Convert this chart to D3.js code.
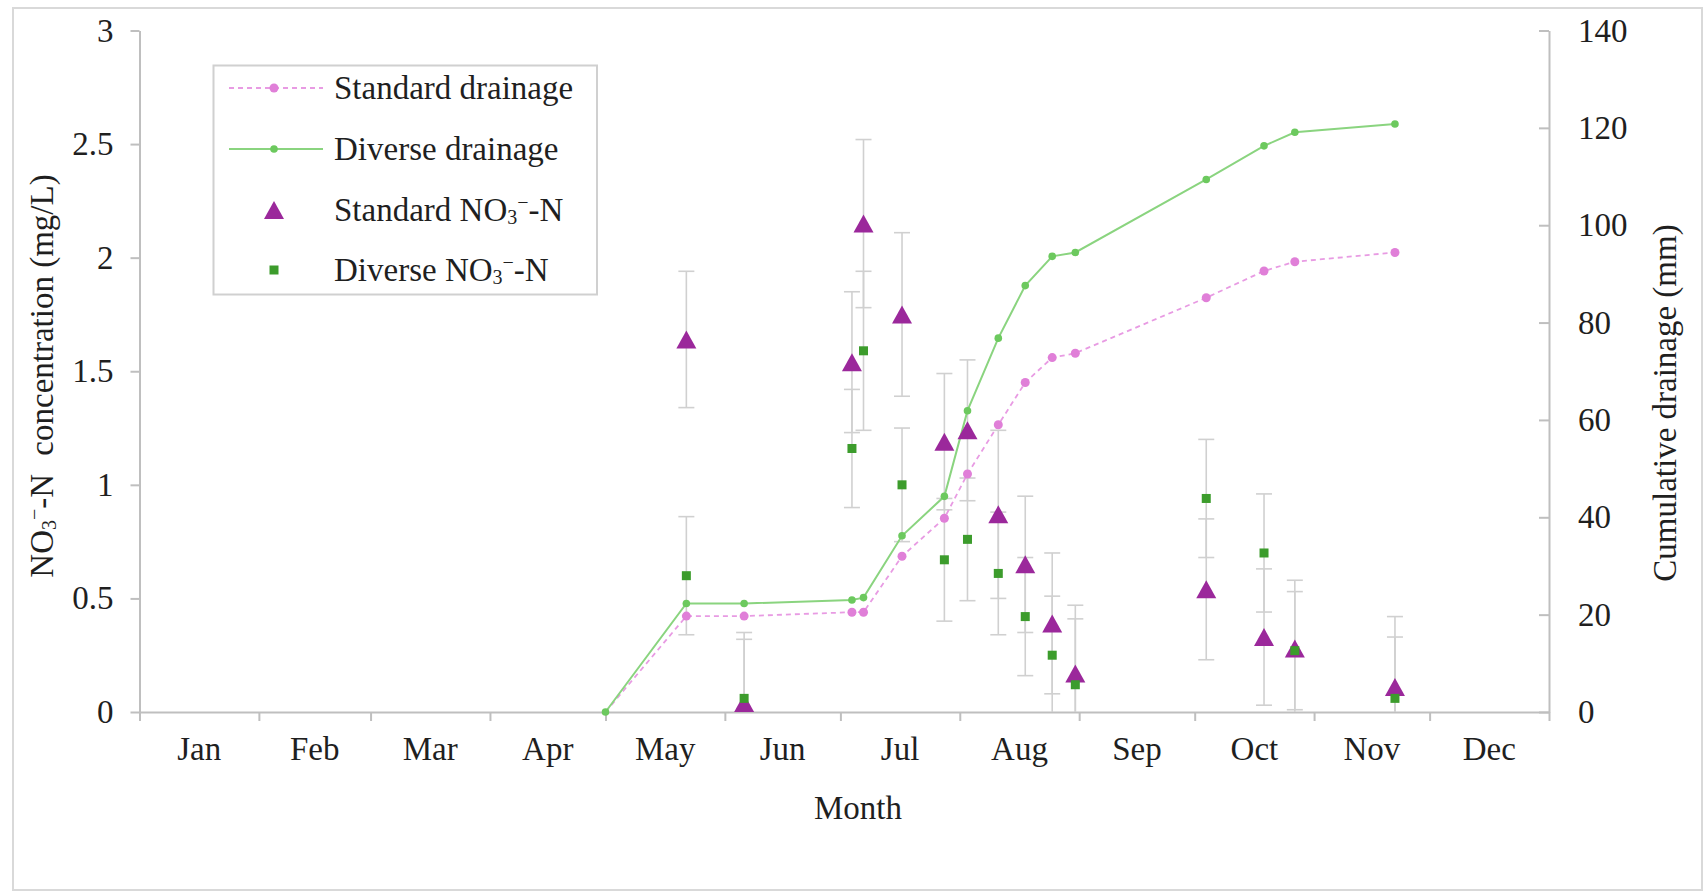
<!doctype html>
<html>
<head>
<script src="https://d3js.org/d3.v7.min.js"></script>
<style>
  body { margin: 0; background: #fff; }
  text { font-family: "Liberation Serif", "Times New Roman", serif; fill: #1f1f1f; }
</style>
</head>
<body>
<script>
// sampling dates (shared by drainage and NO3-N samples)
var sampleDates = ["2020-05-22", "2020-06-06", "2020-07-04", "2020-07-07", "2020-07-17",
                   "2020-07-28", "2020-08-03", "2020-08-11", "2020-08-18", "2020-08-25",
                   "2020-08-31", "2020-10-04", "2020-10-19", "2020-10-27", "2020-11-22"];
var drainageStart = "2020-05-01";

// cumulative drainage (mm), first value is the start date
var standardDrainage = [0, 19.7, 19.7, 20.5, 20.5, 32.0, 39.8, 48.9, 59.0, 67.7, 72.8, 73.7, 85.1, 90.6, 92.5, 94.4];
var diverseDrainage  = [0, 22.3, 22.3, 23.0, 23.5, 36.2, 44.3, 61.9, 76.8, 87.6, 93.6, 94.4, 109.4, 116.3, 119.1, 120.8];

// NO3-N concentration (mg/L) with error
var standardNO3 = [1.64, 0.04, 1.54, 2.15, 1.75, 1.19, 1.24, 0.87, 0.65, 0.39, 0.17, 0.54, 0.33, 0.28, 0.11];
var standardErr = [0.30, 0.31, 0.31, 0.37, 0.36, 0.30, 0.31, 0.37, 0.30, 0.31, 0.30, 0.31, 0.30, 0.30, 0.31];
var diverseNO3  = [0.60, 0.06, 1.16, 1.59, 1.00, 0.67, 0.76, 0.61, 0.42, 0.25, 0.12, 0.94, 0.70, 0.27, 0.06];
var diverseErr  = [0.26, 0.26, 0.26, 0.35, 0.25, 0.27, 0.27, 0.27, 0.26, 0.26, 0.29, 0.26, 0.26, 0.26, 0.27];

var months = ["Jan", "Feb", "Mar", "Apr", "May", "Jun", "Jul", "Aug", "Sep", "Oct", "Nov", "Dec"];
var leftTicks = [0, 0.5, 1, 1.5, 2, 2.5, 3];
var rightTicks = [0, 20, 40, 60, 80, 100, 120, 140];

var width = 1707;
var height = 896;
var margin = {top: 30.5, right: 158, bottom: 184, left: 139.5};
var innerWidth = width - margin.left - margin.right;
var innerHeight = height - margin.top - margin.bottom;

var parse = d3.timeParse("%Y-%m-%d");
var dates = sampleDates.map(parse);
var drainDates = [parse(drainageStart)].concat(dates);

var axisColor = "#bfbfbf";
var fontSize = "33px";

var svg = d3.select("body").append("svg")
  .attr("width", width)
  .attr("height", height);

// outer frame
svg.append("rect")
  .attr("x", 13).attr("y", 8)
  .attr("width", 1689).attr("height", 882)
  .attr("fill", "none")
  .attr("stroke", "#d9d9d9")
  .attr("stroke-width", 2);

var g = svg.append("g")
  .attr("transform", "translate(" + margin.left + "," + margin.top + ")");

//scales
var x = d3.scaleTime()
  .domain([new Date(2020, 0, 1), new Date(2021, 0, 1)])
  .range([0, innerWidth]);
var yL = d3.scaleLinear().domain([0, 3]).range([innerHeight, 0]);
var yR = d3.scaleLinear().domain([0, 140]).range([innerHeight, 0]);

//axes
var monthStarts = d3.timeMonth.range(new Date(2020, 0, 1), new Date(2021, 0, 2));

var xAxis = g.append("g")
  .attr("transform", "translate(0," + innerHeight + ")")
  .call(d3.axisBottom(x).tickValues(monthStarts).tickFormat("").tickSize(9).tickSizeOuter(0));

var leftAxis = g.append("g")
  .call(d3.axisLeft(yL).tickValues(leftTicks).tickFormat(d3.format("")).tickSize(9).tickSizeOuter(0).tickPadding(17));

var rightAxis = g.append("g")
  .attr("transform", "translate(" + innerWidth + ",0)")
  .call(d3.axisRight(yR).tickValues(rightTicks).tickSizeInner(-10).tickSizeOuter(0).tickPadding(29));

[xAxis, leftAxis, rightAxis].forEach(function(a) {
  a.attr("font-family", null).attr("font-size", null);
  a.select(".domain").attr("stroke", axisColor).attr("stroke-width", 2);
  a.selectAll(".tick line").attr("stroke", axisColor).attr("stroke-width", 2);
  a.selectAll(".tick text")
    .style("font-size", fontSize)
    .attr("fill", "#1f1f1f");
});

// month labels centered in each month
g.selectAll(".month")
  .data(months)
  .enter()
  .append("text")
    .attr("class", "month")
    .attr("x", function(d, i) {
      return (x(monthStarts[i]) + x(monthStarts[i + 1])) / 2;
    })
    .attr("y", innerHeight + 48)
    .attr("text-anchor", "middle")
    .style("font-size", fontSize)
    .text(function(d) { return d; });

// axis titles
svg.append("text")
  .attr("x", 858)
  .attr("y", 819)
  .attr("text-anchor", "middle")
  .style("font-size", fontSize)
  .text("Month");

function no3(sel, small) {
  sel.append("tspan").text("NO");
  sel.append("tspan").style("font-size", small).attr("dy", 3).text("3");
  sel.append("tspan").style("font-size", small).attr("dy", -15).text("\u2212");
  sel.append("tspan").attr("dy", 12).text("-N");
}

var leftTitle = svg.append("text")
  .attr("transform", "translate(53,376) rotate(-90)")
  .attr("text-anchor", "middle")
  .style("font-size", fontSize);
no3(leftTitle, "20px");
leftTitle.append("tspan").attr("dx", 10).text(" concentration (mg/L)");

svg.append("text")
  .attr("transform", "translate(1676,403) rotate(-90)")
  .attr("text-anchor", "middle")
  .style("font-size", fontSize)
  .text("Cumulative drainage (mm)");

// error bars
var capHalf = 8;
function errorBars(vals, errs) {
  var eb = g.append("g").attr("stroke", "#d0d0d0").attr("stroke-width", 1.6);
  vals.forEach(function(v, i) {
    var cx = x(dates[i]);
    var hi = v + errs[i];
    var lo = Math.max(0, v - errs[i]);
    eb.append("line")
      .attr("x1", cx).attr("x2", cx)
      .attr("y1", yL(hi)).attr("y2", yL(lo));
    eb.append("line")
      .attr("x1", cx - capHalf).attr("x2", cx + capHalf)
      .attr("y1", yL(hi)).attr("y2", yL(hi));
    if (v - errs[i] > 0) {
      eb.append("line")
        .attr("x1", cx - capHalf).attr("x2", cx + capHalf)
        .attr("y1", yL(lo)).attr("y2", yL(lo));
    }
  });
}
errorBars(standardNO3, standardErr);
errorBars(diverseNO3, diverseErr);

// drainage lines
var line = d3.line()
  .x(function(d) { return x(d[0]); })
  .y(function(d) { return yR(d[1]); });

var stdPts = drainDates.map(function(d, i) { return [d, standardDrainage[i]]; });
var divPts = drainDates.map(function(d, i) { return [d, diverseDrainage[i]]; });

g.append("path")
  .datum(stdPts)
  .attr("d", line)
  .attr("fill", "none")
  .attr("stroke", "#e89be3")
  .attr("stroke-width", 1.8)
  .attr("stroke-dasharray", "5,4");

g.selectAll(".stdpt")
  .data(stdPts.slice(1))
  .enter()
  .append("circle")
    .attr("cx", function(d) { return x(d[0]); })
    .attr("cy", function(d) { return yR(d[1]); })
    .attr("r", 4.5)
    .attr("fill", "#e07fd8");

g.append("path")
  .datum(divPts)
  .attr("d", line)
  .attr("fill", "none")
  .attr("stroke", "#8ad47f")
  .attr("stroke-width", 2);

g.selectAll(".divpt")
  .data(divPts)
  .enter()
  .append("circle")
    .attr("cx", function(d) { return x(d[0]); })
    .attr("cy", function(d) { return yR(d[1]); })
    .attr("r", 3.8)
    .attr("fill", "#6cc95e");

// NO3-N markers
function triangle(cx, cy) {
  return "M" + cx + "," + (cy - 9) + "L" + (cx + 10) + "," + (cy + 9) + "L" + (cx - 10) + "," + (cy + 9) + "Z";
}

g.selectAll(".tri")
  .data(standardNO3)
  .enter()
  .append("path")
    .attr("d", function(d, i) { return triangle(x(dates[i]), yL(d)); })
    .attr("fill", "#9b289b");

g.selectAll(".sq")
  .data(diverseNO3)
  .enter()
  .append("rect")
    .attr("x", function(d, i) { return x(dates[i]) - 4.5; })
    .attr("y", function(d) { return yL(d) - 4.5; })
    .attr("width", 9)
    .attr("height", 9)
    .attr("fill", "#3c9c2c");

// legend
var legend = svg.append("g");
legend.append("rect")
  .attr("x", 213.5).attr("y", 65.5)
  .attr("width", 383.5).attr("height", 229)
  .attr("fill", "#fff")
  .attr("stroke", "#d0d0d0")
  .attr("stroke-width", 2);

var rows = [88, 149, 210, 270];
var symX = 274;

legend.append("line")
  .attr("x1", 229).attr("x2", 323).attr("y1", rows[0]).attr("y2", rows[0])
  .attr("stroke", "#e89be3").attr("stroke-width", 1.8).attr("stroke-dasharray", "5,4");
legend.append("circle").attr("cx", symX).attr("cy", rows[0]).attr("r", 4.5).attr("fill", "#e07fd8");

legend.append("line")
  .attr("x1", 229).attr("x2", 323).attr("y1", rows[1]).attr("y2", rows[1])
  .attr("stroke", "#8ad47f").attr("stroke-width", 2);
legend.append("circle").attr("cx", symX).attr("cy", rows[1]).attr("r", 3.8).attr("fill", "#6cc95e");

legend.append("path").attr("d", triangle(symX, rows[2])).attr("fill", "#9b289b");
legend.append("rect").attr("x", symX - 4.5).attr("y", rows[3] - 4.5)
  .attr("width", 9).attr("height", 9).attr("fill", "#3c9c2c");

legend.append("text").attr("x", 334).attr("y", rows[0] + 11).style("font-size", fontSize).text("Standard drainage");
legend.append("text").attr("x", 334).attr("y", rows[1] + 11).style("font-size", fontSize).text("Diverse drainage");

var t3 = legend.append("text").attr("x", 334).attr("y", rows[2] + 11).style("font-size", fontSize);
t3.append("tspan").text("Standard ");
no3(t3, "20px");

var t4 = legend.append("text").attr("x", 334).attr("y", rows[3] + 11).style("font-size", fontSize);
t4.append("tspan").text("Diverse ");
no3(t4, "20px");
</script>
</body>
</html>
